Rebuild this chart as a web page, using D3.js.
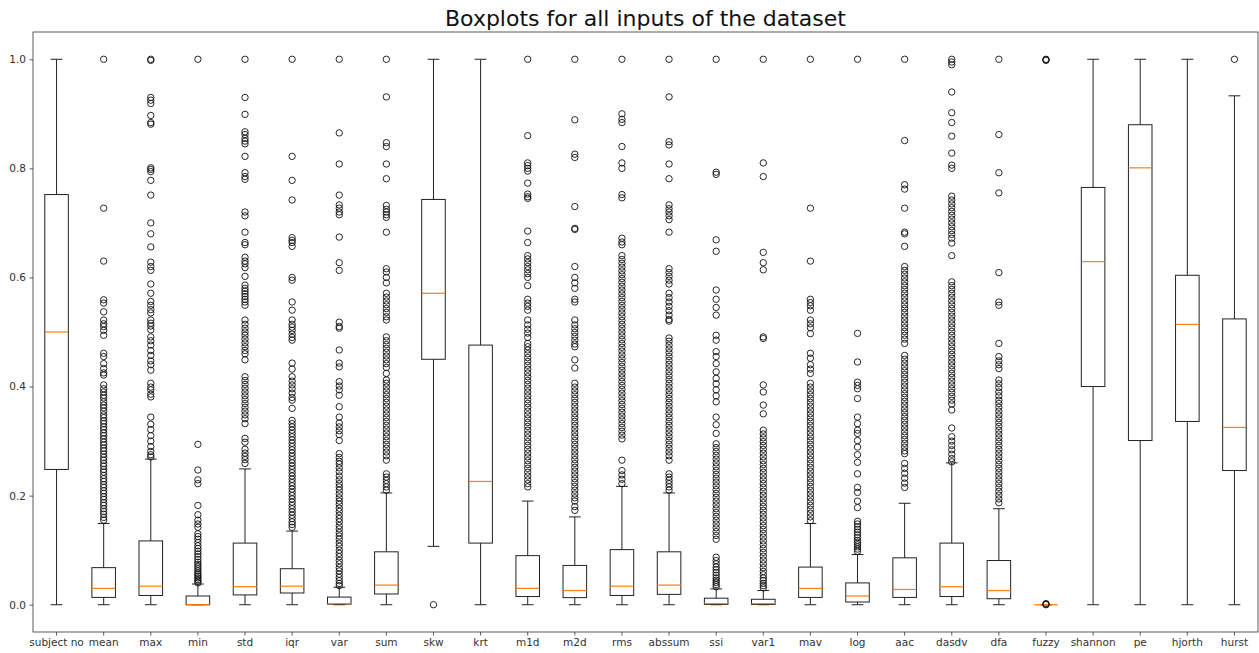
<!DOCTYPE html>
<html>
<head>
<meta charset="utf-8">
<script src="https://cdn.jsdelivr.net/npm/d3@7"></script>
<style>
  body { margin: 0; background: #fff; }
  text { font-family: "DejaVu Sans", sans-serif; }
</style>
</head>
<body>
<div id="boxplot"></div>
<script>
// categories and box statistics
const categories = ["subject no", "mean", "max", "min", "std", "iqr", "var", "sum", "skw", "krt",
  "m1d", "m2d", "rms", "abssum", "ssi", "var1", "mav", "log", "aac", "dasdv", "dfa", "fuzzy",
  "shannon", "pe", "hjorth", "hurst"];

const whiskerLow = [0, 0, 0, 0, 0, 0, 0, 0, 0.107, 0, 0, 0, 0, 0, 0, 0, 0, 0, 0, 0, 0, 0, 0, 0, 0, 0];
const q1 = [0.248, 0.0134, 0.017, 0, 0.018, 0.0215, 0.001, 0.0197, 0.45, 0.113, 0.015, 0.013, 0.017,
  0.019, 0.0005, 0.0005, 0.0134, 0.005, 0.0134, 0.015, 0.011, 0, 0.40, 0.301, 0.336, 0.246];
const median = [0.5, 0.030, 0.034, 0, 0.033, 0.034, 0.002, 0.036, 0.571, 0.226, 0.030, 0.026, 0.034,
  0.036, 0.002, 0.002, 0.030, 0.016, 0.028, 0.033, 0.026, 0, 0.629, 0.801, 0.514, 0.325];
const q3 = [0.752, 0.068, 0.117, 0.016, 0.113, 0.066, 0.014, 0.097, 0.743, 0.476, 0.090, 0.072, 0.101,
  0.097, 0.012, 0.010, 0.069, 0.040, 0.086, 0.113, 0.081, 0, 0.765, 0.880, 0.604, 0.524];
const whiskerHigh = [1.0, 0.149, 0.267, 0.038, 0.249, 0.135, 0.032, 0.205, 1.0, 1.0, 0.19, 0.161, 0.217,
  0.205, 0.029, 0.026, 0.149, 0.092, 0.186, 0.26, 0.176, 0, 1.0, 1.0, 1.0, 0.933];

const outliers = [
  [],
  [1.0, 0.727, 0.63, 0.559, 0.553, 0.537, 0.522, 0.515, 0.51, 0.503, 0.494, 0.461, 0.455, 0.442, 0.433,
    0.425, 0.421, 0.403, 0.396, 0.39, 0.384, 0.379, 0.372, 0.366, 0.361, 0.355, 0.348, 0.343, 0.337, 0.332,
    0.326, 0.321, 0.315, 0.31, 0.304, 0.298, 0.293, 0.287, 0.282, 0.276, 0.27, 0.265, 0.259, 0.254, 0.248,
    0.243, 0.237, 0.231, 0.226, 0.22, 0.215, 0.209, 0.204, 0.198, 0.193, 0.187, 0.182, 0.176, 0.171, 0.166,
    0.16, 0.155],
  [1.0, 0.998, 0.93, 0.925, 0.919, 0.897, 0.884, 0.881, 0.801, 0.798, 0.794, 0.778, 0.751, 0.70, 0.68,
    0.656, 0.628, 0.62, 0.613, 0.588, 0.571, 0.556, 0.549, 0.541, 0.535, 0.522, 0.516, 0.511, 0.504, 0.491,
    0.484, 0.476, 0.466, 0.457, 0.447, 0.44, 0.43, 0.406, 0.399, 0.394, 0.386, 0.381, 0.344, 0.331, 0.321,
    0.31, 0.3, 0.29, 0.281, 0.275, 0.271],
  [1.0, 0.294, 0.247, 0.229, 0.222, 0.182, 0.165, 0.155, 0.148, 0.142, 0.13, 0.125, 0.12, 0.114, 0.108,
    0.103, 0.098, 0.093, 0.088, 0.083, 0.078, 0.074, 0.07, 0.066, 0.062, 0.058, 0.055, 0.052, 0.049, 0.046,
    0.043, 0.04],
  [1.0, 0.93, 0.899, 0.867, 0.862, 0.855, 0.85, 0.845, 0.822, 0.792, 0.785, 0.78, 0.72, 0.713, 0.683,
    0.664, 0.66, 0.637, 0.63, 0.625, 0.618, 0.602, 0.586, 0.58, 0.575, 0.57, 0.565, 0.56, 0.555, 0.549,
    0.522, 0.514, 0.507, 0.5, 0.494, 0.487, 0.48, 0.473, 0.466, 0.46, 0.449, 0.418, 0.411, 0.404, 0.397,
    0.39, 0.383, 0.376, 0.369, 0.362, 0.355, 0.348, 0.341, 0.332, 0.305, 0.298, 0.285, 0.278, 0.272, 0.266,
    0.259],
  [1.0, 0.822, 0.778, 0.742, 0.673, 0.668, 0.664, 0.657, 0.6, 0.595, 0.555, 0.54, 0.522, 0.514, 0.509,
    0.503, 0.496, 0.49, 0.485, 0.443, 0.432, 0.418, 0.41, 0.403, 0.396, 0.388, 0.38, 0.375, 0.36, 0.338,
    0.332, 0.326, 0.32, 0.314, 0.308, 0.302, 0.296, 0.29, 0.284, 0.278, 0.272, 0.266, 0.26, 0.254, 0.248,
    0.242, 0.236, 0.23, 0.224, 0.218, 0.212, 0.206, 0.2, 0.194, 0.188, 0.182, 0.176, 0.17, 0.164, 0.158,
    0.152, 0.147, 0.142],
  [1.0, 0.865, 0.808, 0.751, 0.733, 0.727, 0.72, 0.715, 0.674, 0.627, 0.613, 0.518, 0.51, 0.507, 0.467,
    0.443, 0.436, 0.409, 0.401, 0.394, 0.384, 0.363, 0.344, 0.333, 0.326, 0.319, 0.312, 0.301, 0.277, 0.27,
    0.263, 0.258, 0.251, 0.244, 0.236, 0.229, 0.222, 0.216, 0.21, 0.203, 0.196, 0.19, 0.184, 0.177, 0.171,
    0.164, 0.158, 0.152, 0.145, 0.139, 0.132, 0.126, 0.12, 0.113, 0.107, 0.1, 0.094, 0.088, 0.081, 0.075,
    0.068, 0.062, 0.056, 0.05, 0.044, 0.039, 0.035],
  [1.0, 0.931, 0.847, 0.84, 0.808, 0.781, 0.732, 0.725, 0.72, 0.715, 0.71, 0.683, 0.616, 0.61, 0.6, 0.59,
    0.571, 0.564, 0.557, 0.55, 0.543, 0.536, 0.528, 0.522, 0.491, 0.484, 0.477, 0.47, 0.463, 0.456, 0.449,
    0.442, 0.435, 0.424, 0.412, 0.406, 0.399, 0.392, 0.385, 0.378, 0.371, 0.364, 0.357, 0.35, 0.343, 0.336,
    0.329, 0.322, 0.315, 0.308, 0.301, 0.294, 0.287, 0.28, 0.273, 0.265, 0.24, 0.234, 0.228, 0.222, 0.216,
    0.21],
  [0.0],
  [],
  [1.0, 0.86, 0.81, 0.805, 0.8, 0.795, 0.773, 0.753, 0.748, 0.745, 0.685, 0.664, 0.64, 0.634, 0.627, 0.62,
    0.614, 0.607, 0.6, 0.585, 0.56, 0.553, 0.547, 0.54, 0.522, 0.513, 0.505, 0.498, 0.49, 0.479, 0.473,
    0.467, 0.46, 0.453, 0.446, 0.439, 0.432, 0.425, 0.418, 0.411, 0.404, 0.397, 0.39, 0.383, 0.376, 0.369,
    0.362, 0.355, 0.348, 0.341, 0.334, 0.327, 0.32, 0.313, 0.306, 0.299, 0.292, 0.285, 0.278, 0.271, 0.264,
    0.257, 0.25, 0.243, 0.236, 0.229, 0.222, 0.216],
  [1.0, 0.889, 0.826, 0.82, 0.73, 0.69, 0.688, 0.62, 0.6, 0.59, 0.58, 0.56, 0.555, 0.522, 0.513, 0.506,
    0.499, 0.492, 0.485, 0.478, 0.473, 0.449, 0.434, 0.406, 0.399, 0.392, 0.385, 0.378, 0.371, 0.364, 0.357,
    0.35, 0.343, 0.336, 0.329, 0.322, 0.315, 0.308, 0.301, 0.294, 0.287, 0.28, 0.273, 0.266, 0.259, 0.252,
    0.245, 0.238, 0.231, 0.224, 0.217, 0.21, 0.203, 0.196, 0.19, 0.18, 0.173],
  [1.0, 0.9, 0.89, 0.884, 0.84, 0.81, 0.8, 0.752, 0.746, 0.672, 0.665, 0.66, 0.64, 0.633, 0.626, 0.619,
    0.612, 0.605, 0.598, 0.591, 0.584, 0.577, 0.57, 0.563, 0.556, 0.549, 0.542, 0.535, 0.528, 0.521, 0.514,
    0.507, 0.5, 0.493, 0.486, 0.479, 0.472, 0.465, 0.458, 0.451, 0.444, 0.437, 0.43, 0.423, 0.416, 0.409,
    0.402, 0.395, 0.388, 0.381, 0.374, 0.367, 0.36, 0.353, 0.346, 0.339, 0.332, 0.325, 0.318, 0.311, 0.304,
    0.265, 0.246, 0.238, 0.23, 0.222],
  [1.0, 0.931, 0.849, 0.843, 0.808, 0.781, 0.733, 0.726, 0.72, 0.713, 0.706, 0.683, 0.616, 0.609, 0.602,
    0.595, 0.588, 0.571, 0.563, 0.555, 0.547, 0.539, 0.531, 0.523, 0.52, 0.489, 0.483, 0.476, 0.469, 0.462,
    0.455, 0.448, 0.441, 0.434, 0.427, 0.42, 0.413, 0.406, 0.399, 0.392, 0.385, 0.378, 0.371, 0.364, 0.357,
    0.35, 0.343, 0.336, 0.329, 0.322, 0.315, 0.308, 0.301, 0.294, 0.287, 0.28, 0.273, 0.265, 0.24, 0.234,
    0.228, 0.222, 0.216, 0.21],
  [1.0, 0.793, 0.789, 0.669, 0.648, 0.577, 0.56, 0.545, 0.531, 0.494, 0.485, 0.464, 0.455, 0.442, 0.427,
    0.415, 0.405, 0.394, 0.383, 0.372, 0.344, 0.33, 0.314, 0.295, 0.288, 0.281, 0.274, 0.267, 0.26, 0.253,
    0.246, 0.239, 0.232, 0.225, 0.218, 0.211, 0.204, 0.197, 0.19, 0.183, 0.176, 0.169, 0.162, 0.155, 0.148,
    0.141, 0.134, 0.127, 0.12, 0.087, 0.081, 0.075, 0.069, 0.064, 0.059, 0.054, 0.049, 0.045, 0.041, 0.037,
    0.033],
  [1.0, 0.81, 0.785, 0.646, 0.627, 0.614, 0.491, 0.488, 0.403, 0.39, 0.366, 0.35, 0.32, 0.313, 0.306, 0.299,
    0.292, 0.285, 0.278, 0.271, 0.264, 0.257, 0.25, 0.243, 0.236, 0.229, 0.222, 0.215, 0.208, 0.201, 0.194,
    0.187, 0.18, 0.173, 0.166, 0.159, 0.152, 0.145, 0.138, 0.131, 0.124, 0.117, 0.11, 0.103, 0.096, 0.089,
    0.082, 0.075, 0.068, 0.061, 0.055, 0.049, 0.044, 0.039, 0.035, 0.031],
  [1.0, 0.727, 0.63, 0.56, 0.554, 0.548, 0.54, 0.522, 0.515, 0.508, 0.497, 0.461, 0.452, 0.44, 0.432, 0.424,
    0.406, 0.399, 0.392, 0.385, 0.378, 0.371, 0.364, 0.357, 0.35, 0.343, 0.336, 0.329, 0.322, 0.315, 0.308,
    0.301, 0.294, 0.287, 0.28, 0.273, 0.266, 0.259, 0.252, 0.245, 0.238, 0.231, 0.224, 0.217, 0.21, 0.203,
    0.196, 0.189, 0.182, 0.175, 0.168, 0.161, 0.154],
  [1.0, 0.4975, 0.445, 0.408, 0.402, 0.396, 0.378, 0.344, 0.332, 0.32, 0.314, 0.301, 0.289, 0.275, 0.261,
    0.24, 0.215, 0.206, 0.19, 0.178, 0.153, 0.148, 0.143, 0.138, 0.133, 0.128, 0.123, 0.118, 0.114, 0.11,
    0.106, 0.102, 0.098],
  [1.0, 0.851, 0.77, 0.762, 0.727, 0.683, 0.68, 0.657, 0.62, 0.613, 0.606, 0.599, 0.592, 0.585, 0.578,
    0.571, 0.564, 0.557, 0.55, 0.543, 0.536, 0.529, 0.522, 0.515, 0.508, 0.501, 0.494, 0.487, 0.479, 0.457,
    0.45, 0.443, 0.436, 0.429, 0.422, 0.415, 0.408, 0.401, 0.394, 0.387, 0.38, 0.373, 0.366, 0.359, 0.352,
    0.345, 0.338, 0.331, 0.324, 0.317, 0.31, 0.303, 0.296, 0.289, 0.282, 0.277, 0.259, 0.25, 0.241, 0.232,
    0.223, 0.215],
  [1.0, 0.995, 0.99, 0.94, 0.902, 0.884, 0.859, 0.828, 0.806, 0.8, 0.749, 0.742, 0.735, 0.728, 0.721, 0.714,
    0.707, 0.7, 0.693, 0.686, 0.679, 0.672, 0.663, 0.64, 0.592, 0.585, 0.578, 0.571, 0.564, 0.557, 0.55,
    0.543, 0.536, 0.529, 0.522, 0.515, 0.508, 0.501, 0.494, 0.487, 0.48, 0.473, 0.466, 0.459, 0.452, 0.445,
    0.438, 0.431, 0.424, 0.417, 0.41, 0.403, 0.396, 0.389, 0.382, 0.375, 0.368, 0.357, 0.324, 0.308, 0.3,
    0.292, 0.284, 0.276, 0.268, 0.262],
  [1.0, 0.862, 0.792, 0.755, 0.609, 0.555, 0.549, 0.479, 0.455, 0.447, 0.44, 0.433, 0.412, 0.405, 0.398,
    0.39, 0.383, 0.375, 0.369, 0.362, 0.355, 0.348, 0.341, 0.334, 0.327, 0.32, 0.313, 0.306, 0.299, 0.292,
    0.285, 0.278, 0.271, 0.264, 0.257, 0.25, 0.243, 0.236, 0.229, 0.222, 0.215, 0.208, 0.201, 0.194, 0.187],
  [1.0, 0.999, 0.998, 0.0, 0.001, 0.002],
  [],
  [],
  [],
  [1.0]
];

const yTicks = [0, 0.2, 0.4, 0.6, 0.8, 1.0];

// set the dimensions and margins of the graph
var margin = { top: 32, right: 1, bottom: 21, left: 33 },
    width = 1259 - margin.left - margin.right,
    height = 653 - margin.top - margin.bottom;

var data = categories.map(function (c, i) {
  return {
    name: c,
    lo: whiskerLow[i], q1: q1[i], med: median[i], q3: q3[i], hi: whiskerHigh[i],
    fliers: outliers[i]
  };
});

var svg = d3.select("#boxplot")
  .append("svg")
  .attr("width", width + margin.left + margin.right)
  .attr("height", height + margin.top + margin.bottom)
  .append("g")
  .attr("transform", "translate(" + margin.left + "," + margin.top + ")");

// X axis: one slot per input
const x = d3.scaleBand()
  .domain(categories)
  .range([0, width])
  .padding(0);
const cx = function (d) { return x(d.name) + x.bandwidth() / 2; };
const boxW = x.bandwidth() * 0.5,
      capW = x.bandwidth() * 0.25;

// Y axis
const y = d3.scaleLinear()
  .domain([-0.05, 1.05])
  .range([height, 0]);

var xAxis = svg.append("g")
  .attr("transform", "translate(0," + height + ")")
  .call(d3.axisBottom(x).tickSizeOuter(0).tickSize(3.5).tickPadding(3.5));
var yAxis = svg.append("g")
  .call(d3.axisLeft(y).tickValues(yTicks).tickFormat(d3.format(".1f"))
    .tickSizeOuter(0).tickSize(3.5).tickPadding(3.5));
[xAxis, yAxis].forEach(function (a) {
  a.select(".domain").remove();
  a.selectAll(".tick line").attr("stroke", "#333").attr("stroke-width", 0.8);
  a.selectAll(".tick text")
    .attr("fill", "#333")
    .style("font-size", "10.5px")
    .style("font-family", "'DejaVu Sans', sans-serif");
});

// frame
svg.append("rect")
  .attr("x", 0).attr("y", 0)
  .attr("width", width).attr("height", height)
  .attr("fill", "none")
  .attr("stroke", "#333")
  .attr("stroke-width", 0.8);

var boxes = svg.selectAll(".box")
  .data(data)
  .enter()
  .append("g")
  .attr("class", "box");

// whiskers
boxes.append("line")
  .attr("x1", cx).attr("x2", cx)
  .attr("y1", function (d) { return y(d.q1); })
  .attr("y2", function (d) { return y(d.lo); })
  .attr("stroke", "#222");
boxes.append("line")
  .attr("x1", cx).attr("x2", cx)
  .attr("y1", function (d) { return y(d.q3); })
  .attr("y2", function (d) { return y(d.hi); })
  .attr("stroke", "#222");

// caps
boxes.append("line")
  .attr("x1", function (d) { return cx(d) - capW / 2; })
  .attr("x2", function (d) { return cx(d) + capW / 2; })
  .attr("y1", function (d) { return y(d.lo); })
  .attr("y2", function (d) { return y(d.lo); })
  .attr("stroke", "#222");
boxes.append("line")
  .attr("x1", function (d) { return cx(d) - capW / 2; })
  .attr("x2", function (d) { return cx(d) + capW / 2; })
  .attr("y1", function (d) { return y(d.hi); })
  .attr("y2", function (d) { return y(d.hi); })
  .attr("stroke", "#222");

// boxes
boxes.append("rect")
  .attr("x", function (d) { return cx(d) - boxW / 2; })
  .attr("width", boxW)
  .attr("y", function (d) { return y(d.q3); })
  .attr("height", function (d) { return y(d.q1) - y(d.q3); })
  .attr("fill", "none")
  .attr("stroke", "#222");

// medians
boxes.append("line")
  .attr("x1", function (d) { return cx(d) - boxW / 2; })
  .attr("x2", function (d) { return cx(d) + boxW / 2; })
  .attr("y1", function (d) { return y(d.med); })
  .attr("y2", function (d) { return y(d.med); })
  .attr("stroke", "#ff7f0e")
  .attr("stroke-width", 1.2);

// outliers
boxes.selectAll("circle")
  .data(function (d) { return d.fliers.map(function (v) { return { name: d.name, v: v }; }); })
  .enter()
  .append("circle")
  .attr("cx", cx)
  .attr("cy", function (d) { return y(d.v); })
  .attr("r", 3.2)
  .attr("fill", "none")
  .attr("stroke", "#111")
  .attr("stroke-width", 0.9);

// title
svg.append("text")
  .attr("x", width / 2)
  .attr("y", -6)
  .attr("text-anchor", "middle")
  .style("font-size", "22px")
  .attr("fill", "#111")
  .text("Boxplots for all inputs of the dataset");
</script>
</body>
</html>
